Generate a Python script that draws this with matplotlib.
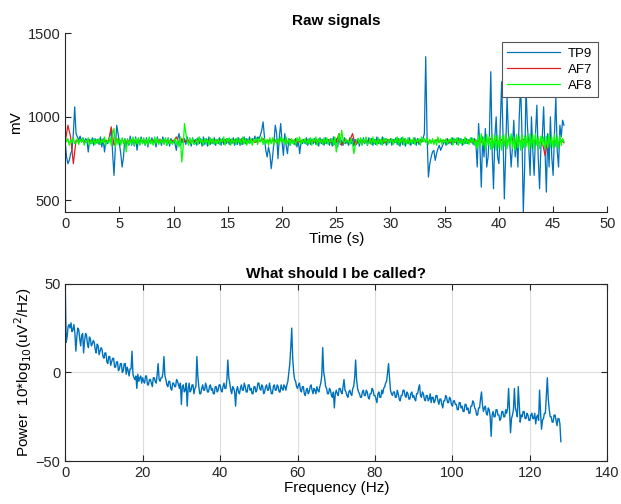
import numpy as np
import matplotlib
matplotlib.use('Agg')
import matplotlib.pyplot as plt

plt.rcParams['font.family'] = ['Liberation Sans', 'DejaVu Sans']

# TP9, every 0.125 s from 0 to 46 s (one row = one second)
tp9 = [850, 760, 720, 740, 780, 800, 900, 1060,
       900, 880, 860, 885, 850, 875, 845, 870,
       860, 790, 865, 840, 875, 830, 870, 845,
       865, 835, 880, 820, 870, 790, 860, 840,
       850, 890, 930, 780, 650, 820, 950, 900,
       840, 780, 700, 760, 870, 820, 860, 830,
       885, 830, 870, 825, 880, 800, 870, 835,
       880, 840, 865, 830, 875, 820, 870, 840,
       875, 835, 870, 820, 880, 840, 865, 830,
       880, 840, 870, 830, 875, 825, 870, 840,
       860, 840, 800, 870, 900, 830, 860, 845,
       870, 835, 880, 840, 865, 825, 875, 840,
       865, 830, 875, 840, 870, 825, 880, 835,
       870, 825, 880, 835, 865, 840, 875, 830,
       865, 840, 875, 830, 870, 835, 865, 840,
       870, 835, 865, 840, 875, 830, 870, 835,
       875, 830, 870, 835, 880, 840, 870, 845,
       880, 845, 870, 860, 885, 850, 880, 870,
       890, 920, 970, 880, 800, 760, 820, 780,
       690, 760, 850, 950, 900, 750, 880, 960,
       850, 770, 900, 830, 780, 870, 830, 860,
       860, 835, 870, 820, 860, 780, 850, 840,
       865, 840, 875, 830, 870, 835, 865, 840,
       870, 835, 860, 825, 875, 840, 865, 830,
       875, 840, 865, 830, 870, 825, 880, 835,
       870, 820, 880, 835, 860, 830, 875, 840,
       860, 830, 875, 840, 870, 825, 865, 835,
       870, 825, 865, 835, 875, 840, 870, 830,
       875, 840, 870, 830, 865, 835, 880, 840,
       865, 835, 880, 840, 870, 830, 865, 845,
       870, 830, 865, 845, 875, 835, 870, 825,
       875, 835, 870, 825, 860, 840, 875, 830,
       860, 840, 875, 830, 870, 835, 865, 850,
       870, 900, 1360, 880, 640, 720, 760, 790,
       800, 740, 780, 810, 830, 800, 820, 840,
       860, 830, 870, 840, 865, 835, 875, 845,
       865, 835, 875, 845, 870, 830, 865, 840,
       870, 840, 865, 850, 875, 835, 870, 845,
       700, 960, 820, 580, 880, 760, 930, 700,
       760, 900, 1270, 800, 570, 880, 1000, 760,
       720, 950, 1210, 900, 510, 780, 1120, 900,
       850, 700, 820, 980, 760, 880, 700, 1000,
       1200, 900, 430, 700, 1180, 950, 820, 650,
       1000, 800, 650, 900, 1070, 760, 570, 820,
       880, 1060, 800, 550, 900, 700, 1000, 760,
       650, 900, 1120, 800, 700, 950, 880, 980,
       950]

# AF7, every 0.25 s
af7 = [850, 950, 880, 720,
       860, 850, 865, 845,
       855, 860, 850, 858,
       852, 862, 848, 860,
       855, 940, 830, 870,
       850, 862, 845, 858,
       855, 866, 848, 860,
       852, 864, 846, 858,
       856, 862, 850, 866,
       850, 860, 845, 862,
       855, 880, 840, 870,
       850, 865, 845, 860,
       855, 862, 848, 858,
       852, 864, 846, 860,
       856, 862, 850, 864,
       850, 860, 846, 862,
       855, 866, 848, 860,
       852, 862, 846, 858,
       855, 870, 845, 860,
       850, 864, 846, 862,
       856, 860, 848, 866,
       852, 862, 846, 860,
       855, 864, 850, 858,
       850, 862, 846, 860,
       856, 864, 848, 862,
       850, 900, 830, 865,
       855, 860, 900, 830,
       852, 864, 846, 860,
       855, 862, 848, 858,
       850, 864, 846, 862,
       856, 860, 850, 864,
       852, 862, 846, 860,
       855, 864, 848, 858,
       855, 860, 850, 855,
       852, 862, 848, 860,
       855, 864, 846, 858,
       850, 862, 848, 860,
       856, 860, 846, 862,
       852, 866, 840, 860,
       855, 870, 845, 862,
       850, 864, 842, 860,
       856, 868, 846, 858,
       852, 866, 840, 862,
       855, 860, 850, 845,
       850, 770, 860, 855,
       850, 860, 845, 860,
       845]

# AF8, every 0.125 s
af8 = [880, 850, 870, 830, 860, 845, 875, 840,
       845, 870, 835, 865, 850, 875, 830, 860,
       850, 875, 830, 860, 840, 870, 835, 865,
       840, 870, 835, 865, 845, 880, 830, 860,
       845, 880, 830, 900, 930, 820, 870, 835,
       870, 830, 875, 840, 865, 790, 870, 835,
       865, 835, 880, 830, 870, 840, 875, 830,
       870, 840, 875, 835, 865, 830, 880, 840,
       860, 830, 880, 840, 870, 835, 865, 845,
       865, 835, 875, 830, 870, 840, 860, 835,
       850, 870, 835, 860, 820, 880, 730, 820,
       960, 900, 860, 830, 875, 840, 870, 835,
       840, 870, 835, 880, 845, 865, 830, 870,
       845, 865, 830, 875, 840, 870, 835, 865,
       840, 870, 835, 865, 850, 880, 830, 870,
       850, 875, 830, 870, 845, 865, 835, 875,
       845, 865, 835, 880, 840, 870, 830, 865,
       840, 870, 830, 865, 850, 875, 835, 870,
       850, 880, 835, 870, 840, 865, 830, 875,
       840, 875, 830, 865, 845, 870, 835, 880,
       850, 870, 835, 880, 840, 865, 830, 870,
       840, 865, 830, 875, 850, 880, 835, 865,
       845, 870, 835, 865, 840, 875, 830, 870,
       850, 880, 830, 870, 845, 865, 835, 875,
       840, 875, 835, 865, 850, 870, 830, 880,
       790, 850, 900, 840, 920, 860, 840, 870,
       850, 860, 835, 870, 840, 780, 830, 860,
       870, 840, 875, 830, 865, 845, 880, 835,
       845, 870, 835, 880, 840, 865, 830, 875,
       840, 865, 830, 875, 850, 870, 835, 865,
       850, 870, 835, 865, 845, 880, 830, 870,
       845, 880, 830, 870, 840, 875, 835, 865,
       840, 875, 835, 865, 850, 870, 830, 880,
       850, 870, 845, 875, 835, 865, 840, 870,
       835, 865, 830, 880, 845, 870, 835, 865,
       845, 870, 835, 865, 850, 875, 830, 870,
       850, 875, 830, 870, 840, 865, 835, 880,
       840, 865, 835, 875, 845, 870, 830, 865,
       810, 890, 820, 900, 830, 880, 805, 895,
       830, 880, 805, 895, 815, 885, 800, 890,
       815, 885, 800, 890, 825, 900, 810, 880,
       825, 900, 810, 880, 800, 895, 815, 885,
       800, 895, 815, 885, 820, 890, 805, 900,
       820, 890, 805, 900, 830, 880, 810, 885,
       830, 880, 810, 885, 815, 895, 820, 880,
       815, 895, 820, 880, 810, 890, 830, 870,
       850]

# power spectrum, every 0.25 Hz from 0 to 128 Hz (one row = 10 Hz)
psd = [50, 17, 20, 26, 27, 25, 28, 23, 24, 27, 22, 12, 20, 25, 24, 19, 15, 21, 22, 11,
       18, 22, 21, 16, 14, 20, 19, 15, 16, 18, 17, 13, 11, 16, 15, 10, 12, 14, 13, 9,
       8, 11, 11, 6, 5, 9, 9, 4, 6, 8, 8, 3, 3, 6, 6, 1, 2, 5, 5, 0,
       1, 5, 5, -1, 3, 1, -2, 2, 2, 12, -1, -3, -4, -2, -9, -1, -5, -3, -2, -6,
       -3, -5, -6, -2, -2, -7, -7, -4, -4, -6, -8, -3, -3, -5, -6, -1, 5, -4, -5, -3,
       -3, 0, 9, -2, -4, -7, -8, -5, -5, -9, -10, -6, -6, -8, -8, -4, -5, -7, -9, -6,
       -18, -8, -7, -11, -10, -6, -19, -9, -6, -11, -10, -7, -7, -12, -9, -8, 9, -2, -8, -12,
       -12, -9, -7, -10, -10, -6, -8, -11, -11, -8, -7, -10, -9, -12, -12, -8, -8, -11, -10, -7,
       -7, -10, -11, -8, -6, -9, -9, -4, 7, -3, -6, -10, -12, -8, -9, -11, -19, -10, -8, -11,
       -12, -9, -7, -10, -10, -6, -8, -11, -11, -7, -7, -10, -9, -12, -12, -8, -8, -11, -10, -6,
       -6, -9, -10, -7, -8, -12, -11, -8, -7, -10, -10, -6, -9, -12, -12, -8, -7, -10, -10, -7,
       -8, -11, -11, -7, -9, -10, -7, -8, -10, -7, -5, 0, 5, 14, 25, 8, 0, -4, -5, -8,
       -9, -7, -6, -10, -11, -8, -8, -12, -13, -10, -9, -12, -11, -8, -7, -10, -12, -9, -10, -12,
       -8, -10, -11, -8, -6, -2, 14, 0, -3, -8, -9, -12, -12, -9, -10, -13, -14, -11, -20, -12,
       -10, -12, -13, -9, -9, -11, -12, -8, -4, -10, -11, -13, -14, -11, -10, -12, -13, -9, -8, -3,
       7, -4, -9, -11, -12, -14, -14, -11, -10, -13, -13, -10, -11, -14, -15, -12, -12, -9, -10, -13,
       -13, -15, -17, -12, -11, -14, -14, -10, -12, -9, -8, -6, -5, 0, 5, -3, -10, -12, -13, -11,
       -11, -14, -14, -10, -12, -15, -16, -13, -13, -10, -10, -13, -14, -11, -12, -15, -15, -12, -11, -14,
       -13, -15, -16, -12, -12, -9, -7, -13, -14, -11, -12, -15, -16, -13, -13, -16, -15, -12, -17, -14,
       -14, -17, -16, -13, -13, -16, -18, -15, -15, -18, -20, -16, -16, -13, -14, -17, -17, -14, -15, -18,
       -19, -16, -16, -18, -18, -21, -21, -17, -17, -20, -19, -22, -22, -18, -18, -21, -20, -23, -23, -19,
       -19, -16, -17, -20, -21, -24, -24, -20, -20, -15, -11, -18, -22, -20, -19, -23, -24, -20, -21, -25,
       -36, -24, -22, -25, -25, -21, -21, -24, -24, -27, -26, -22, -22, -25, -25, -21, -23, -20, -9, -22,
       -34, -26, -24, -21, -9, -20, -22, -25, -8, -18, -28, -24, -25, -22, -22, -26, -26, -23, -24, -27,
       -27, -24, -23, -26, -26, -23, -29, -25, -24, -27, -10, -22, -32, -27, -26, -23, -23, -13, -3, -15,
       -21, -25, -25, -28, -28, -24, -24, -27, -30, -26, -26, -29, -39]

t = np.arange(len(tp9)) * 0.125
t7 = np.arange(len(af7)) * 0.25
t8 = np.arange(len(af8)) * 0.125
f = np.arange(len(psd)) * 0.25

fig = plt.figure(figsize=(6.21, 5.04), dpi=100)

ax1 = fig.add_axes([0.105, 0.579, 0.873, 0.355])
ax1.plot(t, tp9, color='#0072BD', lw=0.9, label='TP9')
ax1.plot(t7, af7, color='#E02020', lw=0.9, label='AF7')
ax1.plot(t8, af8, color='#00FF00', lw=0.9, label='AF8')
ax1.set_xlim(0, 50)
ax1.set_ylim(430, 1500)
ax1.set_yticks([500, 1000, 1500])
ax1.set_xticks(range(0, 51, 5))
ax1.spines['top'].set_visible(False)
ax1.spines['right'].set_visible(False)
ax1.set_title('Raw signals', fontsize=11, fontweight='bold', pad=6)
ax1.set_xlabel('Time (s)', fontsize=11, labelpad=1)
ax1.set_ylabel('mV', fontsize=11, labelpad=3)
leg = ax1.legend(loc='upper right', bbox_to_anchor=(0.982, 0.95), borderaxespad=0,
                 fontsize=9.5, fancybox=False, framealpha=1, edgecolor='#555555',
                 handlelength=4.0, handletextpad=0.6, borderpad=0.4, labelspacing=0.3)
leg.get_frame().set_linewidth(0.8)

ax2 = fig.add_axes([0.105, 0.085, 0.873, 0.352])
ax2.plot(f, psd, color='#0072BD', lw=1.0)
ax2.set_xlim(0, 140)
ax2.set_ylim(-50, 50)
ax2.set_xticks(range(0, 141, 20))
ax2.set_yticks([-50, 0, 50])
ax2.grid(True, color='#dddddd', lw=0.8)
ax2.set_axisbelow(True)
ax2.set_title('What should I be called?', fontsize=11, fontweight='bold', pad=4)
ax2.set_xlabel('Frequency (Hz)', fontsize=11, labelpad=1)
ax2.set_ylabel('Power  10*log$_{10}$(uV$^2$/Hz)', fontsize=11, labelpad=1)

for ax in (ax1, ax2):
    ax.tick_params(direction='in', length=4, labelsize=10.5, colors='#262626',
                   top=(ax is ax2), right=(ax is ax2))
    for s in ax.spines.values():
        s.set_color('#262626')
        s.set_linewidth(0.8)

fig.savefig('out.png', dpi=100)
